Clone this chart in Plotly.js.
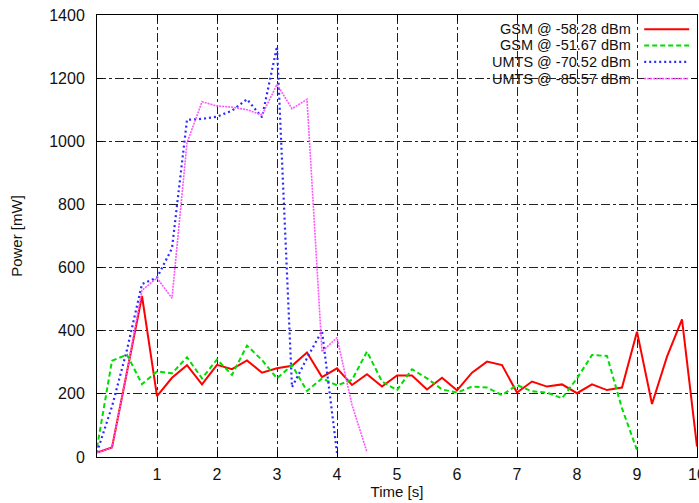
<!DOCTYPE html>
<html>
<head>
<meta charset="utf-8">
<script src="https://cdn.plot.ly/plotly-3.0.1.min.js"></script>
<style>html,body{margin:0;padding:0;background:#fff;}#chart{width:699px;height:503px;}</style>
</head>
<body>
<div id="chart"></div>
<script>
// Time samples (s)
const tRed = [0,0.25,0.5,0.75,1,1.25,1.5,1.75,2,2.25,2.5,2.75,3,3.25,3.5,3.75,4,4.25,4.5,4.75,5,5.25,5.5,5.75,6,6.25,6.5,6.75,7,7.25,7.5,7.75,8,8.25,8.5,8.75,9,9.25,9.5,9.75,10];
const gsm5828 = [14,30,270,510,193,251,291,230,292,278,306,267,281,289,331,253,281,228,262,223,258,258,214,251,211,267,302,291,204,239,223,230,202,230,212,220,397,168,318,436,33];

const tGreen = [0,0.25,0.5,0.75,1,1.25,1.5,1.75,2,2.25,2.5,2.75,3,3.25,3.5,3.75,4,4.25,4.5,4.75,5,5.25,5.5,5.75,6,6.25,6.5,6.75,7,7.25,7.5,7.75,8,8.25,8.5,8.75,9];
const gsm5167 = [30,305,324,231,271,265,316,249,309,260,353,307,249,291,209,249,227,244,334,239,212,278,249,214,204,223,220,196,228,208,204,186,249,323,320,154,22];

const tBlue = [0,0.25,0.5,0.75,1,1.25,1.5,1.75,2,2.25,2.5,2.75,3,3.25,3.5,3.75,4];
const umts7052 = [15,160,340,548,568,661,1068,1071,1078,1097,1133,1076,1300,221,313,400,13];

const tMag = [0,0.25,0.5,0.75,1,1.25,1.5,1.75,2,2.25,2.5,2.75,3,3.25,3.5,3.75,4,4.25,4.5];
const umts8557 = [14,30,270,528,567,503,995,1125,1112,1108,1100,1083,1180,1103,1133,334,378,165,15];

const seriesNames = ["GSM @ -58.28 dBm","GSM @ -51.67 dBm","UMTS @ -70.52 dBm","UMTS @ -85.57 dBm"];
const xTicks = [1,2,3,4,5,6,7,8,9,10];
const yTicks = [0,200,400,600,800,1000,1200,1400];

const FONT = "Liberation Sans, Arial, Helvetica, sans-serif";
const styles = [
  {color:"#ff0000", width:2, dash:"solid"},
  {color:"#00dd00", width:2, dash:"5px,3px"},
  {color:"#2a2aff", width:2.2, dash:"2px,3px"},
  {color:"#ff55ff", width:1.6, dash:"2px,1px"}
];

const xs = [tRed,tGreen,tBlue,tMag];
const ys = [gsm5828,gsm5167,umts7052,umts8557];

const traces = xs.map((x,i)=>({
  x:x, y:ys[i], type:"scatter", mode:"lines", name:seriesNames[i],
  line:{color:styles[i].color, width:styles[i].width, dash:styles[i].dash},
  showlegend:false, hoverinfo:"skip", cliponaxis:true
}));

// gnuplot-style legend: text right-aligned, sample line to the right
const legY = [0.968,0.931,0.894,0.856];
const annotations = seriesNames.map((n,i)=>({
  text:n, xref:"paper", yref:"paper", x:0.893, y:legY[i], xanchor:"right", yanchor:"middle",
  showarrow:false, font:{family:FONT, size:14.5, color:"#111"}
}));
const shapes = styles.map((s,i)=>({
  type:"line", xref:"paper", yref:"paper", x0:0.912, x1:0.987, y0:legY[i], y1:legY[i],
  line:{color:s.color, width:s.width, dash:s.dash}
}));

const axisCommon = {
  showline:true, linecolor:"#000", linewidth:1, mirror:"ticks",
  ticks:"inside", ticklen:6, tickcolor:"#000", tickwidth:1,
  showgrid:true, gridcolor:"#222", gridwidth:1, griddash:"dashdot",
  zeroline:false, ticklabeloverflow:"allow",
  tickfont:{family:FONT, size:16, color:"#111"}
};

const layout = {
  width:699, height:503,
  margin:{l:97, r:2, t:15, b:46},
  paper_bgcolor:"#fff", plot_bgcolor:"#fff",
  xaxis:Object.assign({}, axisCommon, {
    range:[0,10], tickvals:xTicks, ticktext:xTicks.map(String), ticklabelstandoff:3,
    title:{text:"Time [s]", standoff:2, font:{family:FONT, size:15, color:"#111"}}
  }),
  yaxis:Object.assign({}, axisCommon, {
    range:[0,1400], tickvals:yTicks, ticktext:yTicks.map(String), ticklabelstandoff:8,
    title:{text:"Power [mW]", standoff:22, font:{family:FONT, size:15, color:"#111"}}
  }),
  annotations:annotations, shapes:shapes
};

Plotly.newPlot("chart", traces, layout, {displayModeBar:false, staticPlot:true});
</script>
</body>
</html>
